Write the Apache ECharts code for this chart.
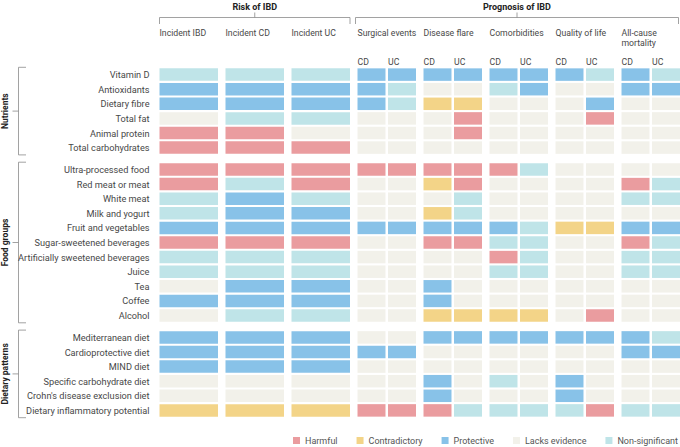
<!DOCTYPE html>
<html><head><meta charset="utf-8">
<script src="https://cdn.jsdelivr.net/npm/echarts@6/dist/echarts.min.js"></script>
<style>html,body{margin:0;padding:0;background:#fff}#c{width:680px;height:447px}</style>
</head><body><div id="c"></div>
<script>
// ---------------- DATA ----------------
const groupNames = ['Nutrients', 'Food groups', 'Dietary patterns'];
const nutrients = ['Vitamin D', 'Antioxidants', 'Dietary fibre', 'Total fat', 'Animal protein', 'Total carbohydrates'];
const foodGroups = ['Ultra-processed food', 'Red meat or meat', 'White meat', 'Milk and yogurt', 'Fruit and vegetables',
  'Sugar-sweetened beverages', 'Artificially sweetened beverages', 'Juice', 'Tea', 'Coffee', 'Alcohol'];
const dietaryPatterns = ['Mediterranean diet', 'Cardioprotective diet', 'MIND diet', 'Specific carbohydrate diet',
  "Crohn's disease exclusion diet", 'Dietary inflammatory potential'];

const riskColumns = ['Incident IBD', 'Incident CD', 'Incident UC'];
const prognosisColumns = ['Surgical events', 'Disease flare', 'Comorbidities', 'Quality of life', 'All-cause\nmortality'];
const subColumns = ['CD', 'UC'];
const headerLabels = ['Risk of IBD', 'Prognosis of IBD'];

const categories = ['Harmful', 'Contradictory', 'Protective', 'Lacks evidence', 'Non-significant'];
const categoryCodes = ['H', 'C', 'P', 'L', 'N'];
const categoryColors = ['#ea9c9f', '#f3d488', '#88c2e8', '#f2f1ea', '#bfe4e8'];

// 13 columns: IBD CD UC | surgical CD UC | flare CD UC | comorbid CD UC | QoL CD UC | mortality CD UC
const nutrientValues = [
  'NNN PP PP PP PN PN',
  'PPP PN LL NP LL PP',
  'PPP PN CC LL LP LL',
  'LNN LL LH LL LH LL',
  'HHL LL LH LL LL LL',
  'HHH LL LL LL LL LL'
];
const foodGroupValues = [
  'HHH HH HH HN LL LL',
  'HNH LL CH LL LL HN',
  'NPN LL LN LL LL NN',
  'NPP LL CN LL LL LL',
  'PPP PP PP PN CC PP',
  'HHH LL HH NN LL HN',
  'NNN LL LL HN LL NN',
  'NNN LL LL NN LL NN',
  'LPP LL PL LL LL LL',
  'PPP LL PL LL LL LL',
  'LNN LL CC CC LH LL'
];
const dietaryPatternValues = [
  'PPP LL PP PP PP PN',
  'PPP PP LL LL LL PP',
  'PPP LL LL LL LL LL',
  'LLL LL PL NL PL LL',
  'LLL LL PL LL PL LL',
  'CCC HH HN NN NH NN'
];

// ---------------- BUILD ----------------
const blocks = [
  { name: groupNames[0], rows: nutrients, values: nutrientValues },
  { name: groupNames[1], rows: foodGroups, values: foodGroupValues },
  { name: groupNames[2], rows: dietaryPatterns, values: dietaryPatternValues }
];
const BLOCK_GAP = 0.5;
const labelAt = {};
const seriesData = categories.map(() => []);
const blockSpans = [];
let pos = 0;
blocks.forEach((b, bi) => {
  if (bi > 0) pos += BLOCK_GAP;
  const start = pos;
  b.rows.forEach((r, ri) => {
    labelAt[pos] = r;
    const codes = b.values[ri].replace(/\s/g, '').split('');
    codes.forEach((code, c) => {
      let g, s;
      if (c < 3) { g = c; s = -1; } else { g = 3 + Math.floor((c - 3) / 2); s = (c - 3) % 2; }
      const k = categoryCodes.indexOf(code);
      seriesData[k].push([g, s, pos]);
    });
    pos += 1;
  });
  blockSpans.push([start, pos - 1]);
});
const lastRow = pos - 1;

const FULL_W = 58.5 / 66, SUB_W = 28 / 66, SUB_OFF = 30.5 / 66, CELL_H = 12.5 / 14.6;

function renderCell(params, api) {
  const g = api.value(0), s = api.value(1), y = api.value(2);
  const p = api.coord([g, y]);
  const unit = api.size([1, 1]);
  let x0, w;
  if (s < 0) { x0 = p[0]; w = unit[0] * FULL_W; }
  else { x0 = p[0] + s * unit[0] * SUB_OFF; w = unit[0] * SUB_W; }
  const h = unit[1] * CELL_H;
  return { type: 'rect', shape: { x: x0, y: p[1] - h / 2, width: w, height: h }, style: { fill: api.visual('color') } };
}

const FONT = 'Roboto';
const TXT = '#484848';
const chart = echarts.init(document.getElementById('c'), null, { renderer: 'svg' });
const gridLeft = 159.5, gridTop = 67.3, unitX = 66, unitY = 14.6;

const option = {
  animation: false,
  textStyle: { fontFamily: FONT },
  grid: { left: gridLeft, top: gridTop, width: unitX * (7 + FULL_W), height: unitY * (lastRow + 1) },
  xAxis: { type: 'value', min: 0, max: 7 + FULL_W, show: false },
  yAxis: {
    type: 'value', inverse: true, min: -0.5, max: lastRow + 0.5, interval: 0.5,
    axisLine: { show: false }, axisTick: { show: false }, splitLine: { show: false },
    axisLabel: {
      margin: 10, fontSize: 9.2, color: TXT, fontFamily: FONT,
      showMinLabel: true, showMaxLabel: true,
      formatter: v => labelAt[v] || ''
    }
  },
  legend: {
    right: 2, top: 436, padding: 0, itemWidth: 7, itemHeight: 7, itemGap: 19, icon: 'rect',
    textStyle: { fontSize: 9, color: '#555', fontFamily: FONT },
    data: categories, selectedMode: false
  },
  series: categories.map((name, k) => ({
    name, type: 'custom', renderItem: renderCell, data: seriesData[k],
    itemStyle: { color: categoryColors[k] }, encode: { x: 0, y: 2 }, silent: true
  })),
  graphic: []
};

// header / bracket graphics
const gx = i => gridLeft + unitX * i;
const rowY = r => gridTop + unitY * (r + 0.5);
const lineStyle = { stroke: '#8a8a8a', lineWidth: 0.8, fill: null };
const gr = [];
function bracketTop(x1, x2, label) {
  const xm = (x1 + x2) / 2;
  gr.push({ type: 'polyline', shape: { points: [[x1, 24], [x1, 17.5], [x2, 17.5], [x2, 24]] }, style: lineStyle });
  gr.push({ type: 'line', shape: { x1: xm, y1: 12.5, x2: xm, y2: 17.5 }, style: lineStyle });
  gr.push({ type: 'text', x: xm, y: 6.5, style: { text: label, fontSize: 9, fontWeight: 'bold', fill: '#222', fontFamily: FONT, align: 'center', verticalAlign: 'middle' } });
}
bracketTop(gx(0), gx(2) + unitX * FULL_W, headerLabels[0]);
bracketTop(gx(3) - 2, gx(7) + unitX * FULL_W - 1.5, headerLabels[1]);

const colLabels = riskColumns.concat(prognosisColumns);
colLabels.forEach((t, i) => {
  gr.push({ type: 'text', x: gx(i), y: 28, style: { text: t, fontSize: 8.7, lineHeight: 10, fill: TXT, fontFamily: FONT, align: 'left', verticalAlign: 'top' } });
});
for (let i = 3; i < 8; i++) {
  subColumns.forEach((t, s) => {
    gr.push({ type: 'text', x: gx(i) + s * unitX * SUB_OFF, y: 62, style: { text: t, fontSize: 8.7, fill: TXT, fontFamily: FONT, align: 'left', verticalAlign: 'middle' } });
  });
}
blockSpans.forEach((sp, bi) => {
  const top = rowY(sp[0]) - unitY / 2, bot = rowY(sp[1]) + unitY / 2, mid = (top + bot) / 2;
  gr.push({ type: 'polyline', shape: { points: [[26, top], [18.5, top], [18.5, bot], [26, bot]] }, style: lineStyle });
  gr.push({ type: 'line', shape: { x1: 12.5, y1: mid, x2: 18.5, y2: mid }, style: lineStyle });
  gr.push({ type: 'text', x: 5, y: mid, rotation: Math.PI / 2, style: { text: blocks[bi].name, fontSize: 8.5, fontWeight: 'bold', fill: '#222', fontFamily: FONT, align: 'center', verticalAlign: 'middle' } });
});
option.graphic = gr;
chart.setOption(option);
</script>
</body></html>
